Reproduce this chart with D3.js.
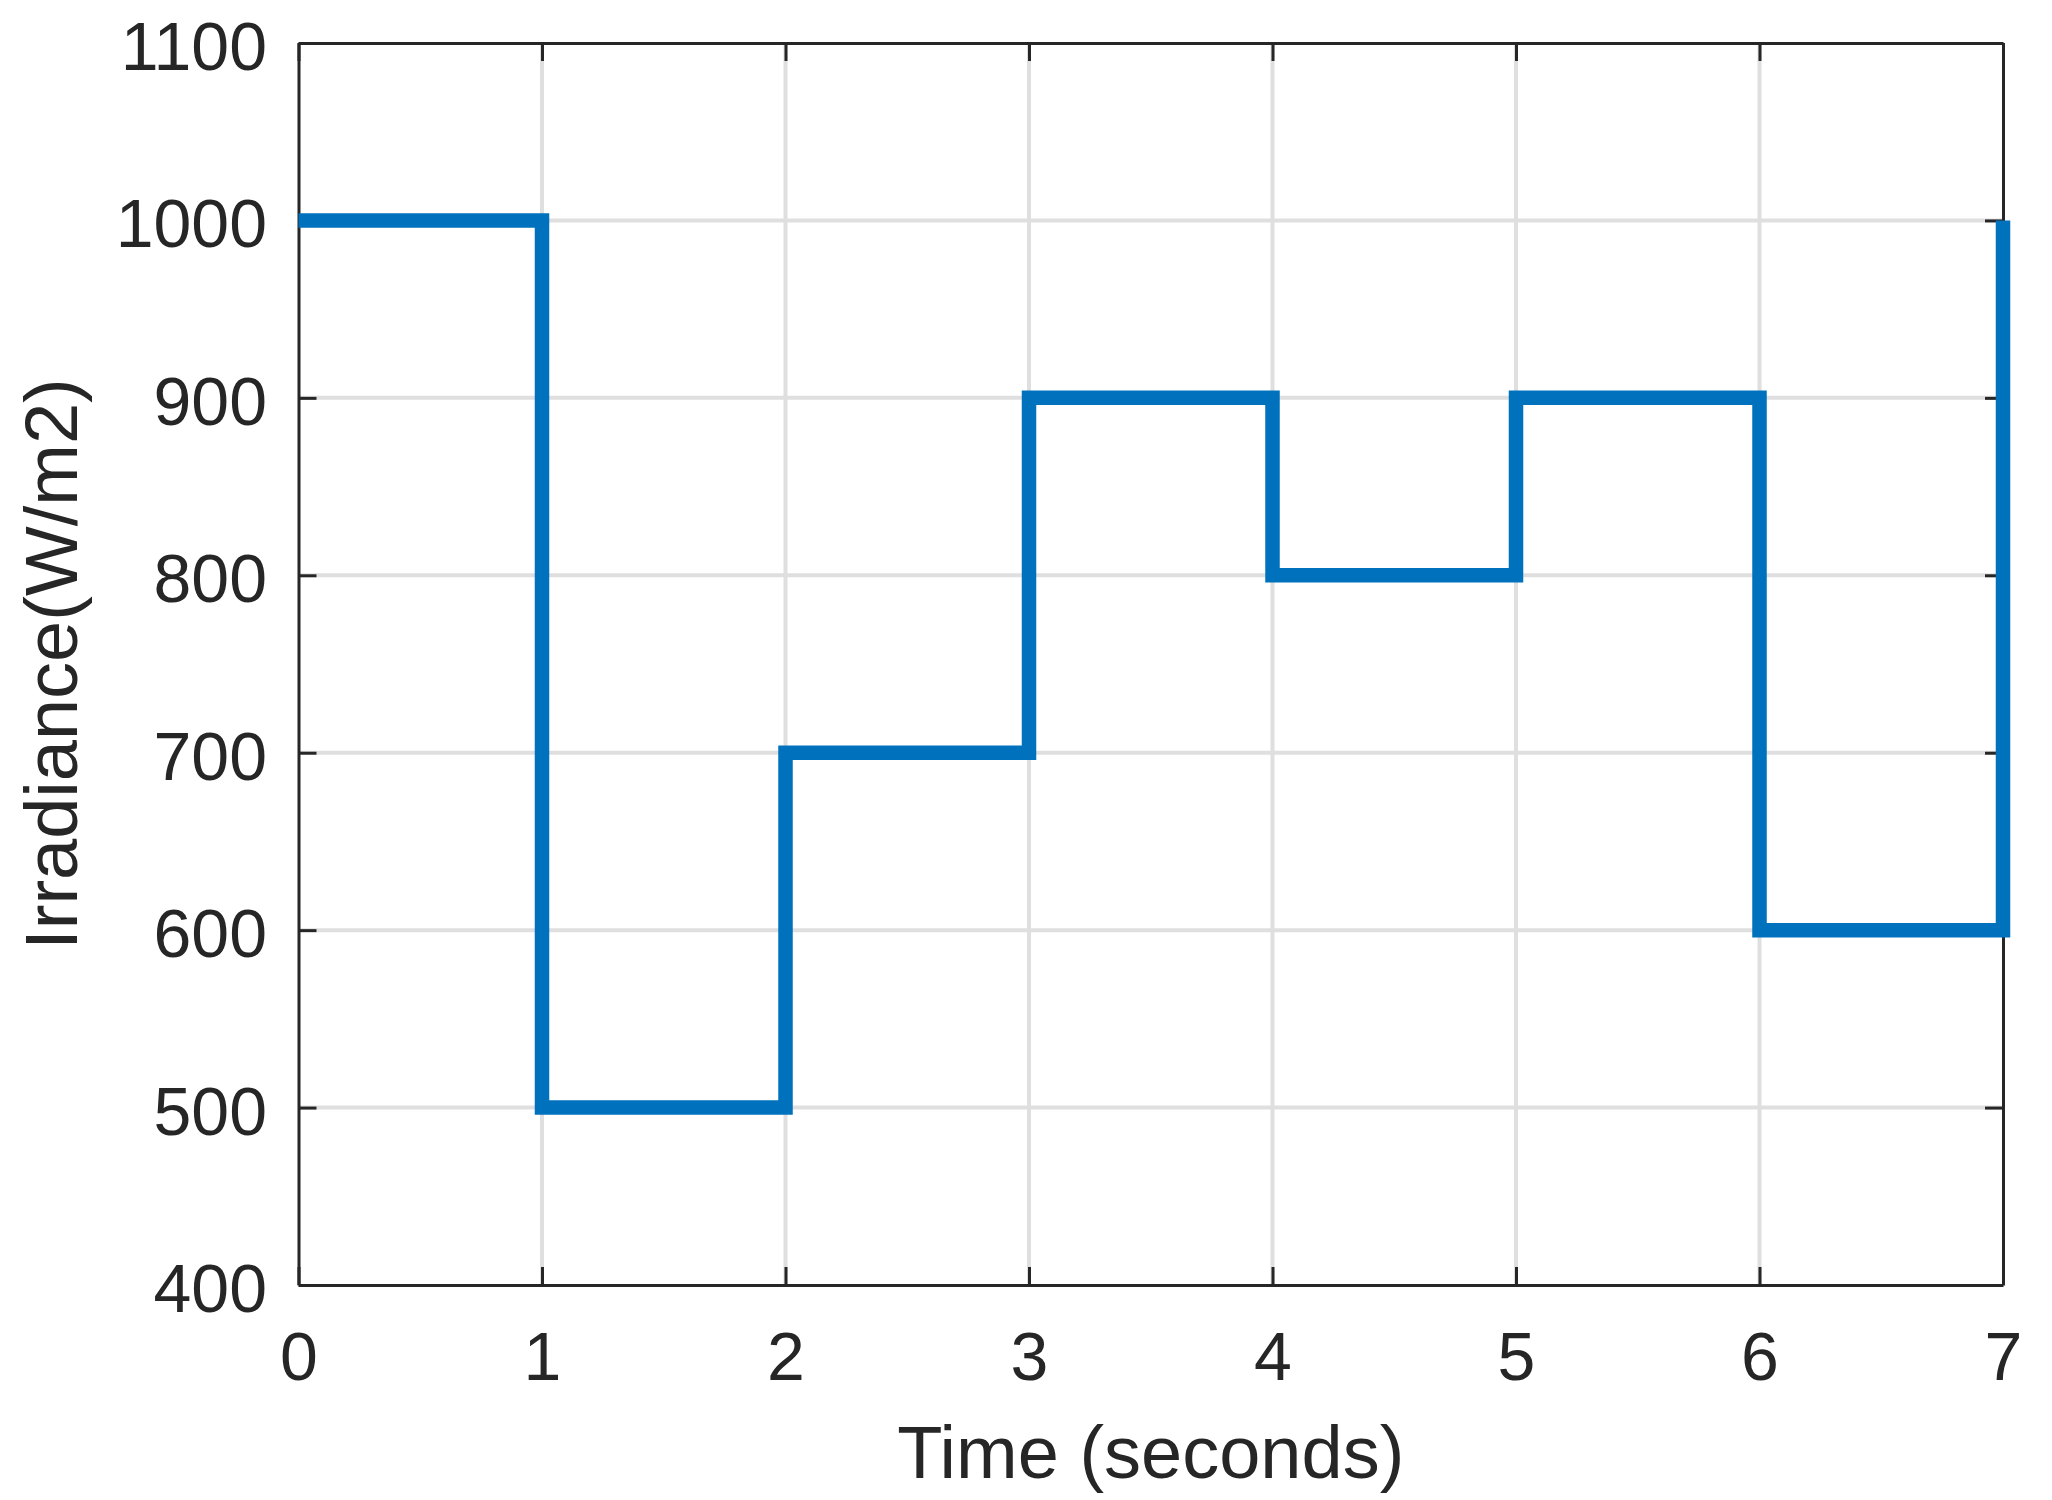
<!DOCTYPE html>
<html>
<head>
<meta charset="utf-8">
<script src="https://cdn.jsdelivr.net/npm/d3@7"></script>
<style>
  html, body { margin: 0; padding: 0; background: #ffffff; }
  svg { display: block; }
  text { font-family: "Liberation Sans", Arial, Helvetica, sans-serif; fill: #262626; }
</style>
</head>
<body>
<script>
// ---- data ----
const time = [0, 1, 1, 2, 2, 3, 3, 4, 4, 5, 5, 6, 6, 7, 7];
const irradiance = [1000, 1000, 500, 500, 700, 700, 900, 900, 800, 800, 900, 900, 600, 600, 1000];
const xTicks = [0, 1, 2, 3, 4, 5, 6, 7];
const yTicks = [400, 500, 600, 700, 800, 900, 1000, 1100];
const xLabel = "Time (seconds)";
const yLabel = "Irradiance(W/m2)";

// ---- layout ----
const W = 2052, H = 1500;
const margin = { left: 298.5, right: 49, top: 43, bottom: 215 };
const iw = W - margin.left - margin.right;
const ih = H - margin.top - margin.bottom;
const ink = "#262626";

const svg = d3.select("body").append("svg").attr("width", W).attr("height", H);
const g = svg.append("g").attr("transform", `translate(${margin.left},${margin.top})`);

const x = d3.scaleLinear().domain([0, 7]).range([0, iw]);
const y = d3.scaleLinear().domain([400, 1100]).range([ih, 0]);

// grid
g.append("g").selectAll("line.gx").data(xTicks.slice(1, -1)).join("line")
  .attr("x1", d => x(d)).attr("x2", d => x(d)).attr("y1", 0).attr("y2", ih)
  .attr("stroke", "#dfdfdf").attr("stroke-width", 4);
g.append("g").selectAll("line.gy").data(yTicks.slice(1, -1)).join("line")
  .attr("y1", d => y(d)).attr("y2", d => y(d)).attr("x1", 0).attr("x2", iw)
  .attr("stroke", "#dfdfdf").attr("stroke-width", 4);

const tickLen = 18;
function styleAxis(sel) {
  sel.selectAll("path.domain").attr("stroke", ink).attr("stroke-width", 3);
  sel.selectAll(".tick line").attr("stroke", ink).attr("stroke-width", 3);
  sel.selectAll("text").style("font-size", "68px").attr("fill", ink)
    .style("font-family", '"Liberation Sans", Arial, sans-serif');
}

const xb = g.append("g").attr("transform", `translate(0,${ih})`)
  .call(d3.axisBottom(x).tickValues(xTicks).tickFormat(d3.format("d"))
    .tickSizeInner(-tickLen).tickSizeOuter(0).tickPadding(47));
styleAxis(xb);

const xt = g.append("g")
  .call(d3.axisTop(x).tickValues(xTicks).tickFormat("")
    .tickSizeInner(-tickLen).tickSizeOuter(0));
styleAxis(xt);

const yl = g.append("g")
  .call(d3.axisLeft(y).tickValues(yTicks).tickFormat(d3.format("d"))
    .tickSizeInner(-tickLen).tickSizeOuter(0).tickPadding(31.5));
styleAxis(yl);
yl.selectAll("text").attr("dy", "0.39em");

const yr = g.append("g").attr("transform", `translate(${iw},0)`)
  .call(d3.axisRight(y).tickValues(yTicks).tickFormat("")
    .tickSizeInner(-tickLen).tickSizeOuter(0));
styleAxis(yr);

// data line
const pts = time.map((t, i) => [t, irradiance[i]]);
g.append("path")
  .datum(pts)
  .attr("fill", "none")
  .attr("stroke", "#0072BD")
  .attr("stroke-width", 14.5)
  .attr("stroke-linejoin", "miter")
  .attr("stroke-linecap", "butt")
  .attr("d", d3.line().x(d => x(d[0])).y(d => y(d[1])));

// labels
svg.append("text")
  .attr("x", margin.left + iw / 2).attr("y", 1478)
  .attr("text-anchor", "middle")
  .style("font-size", "74px")
  .text(xLabel);

svg.append("text")
  .attr("transform", `translate(77,${margin.top + ih / 2}) rotate(-90)`)
  .attr("text-anchor", "middle")
  .style("font-size", "74px")
  .text(yLabel);
</script>
</body>
</html>
